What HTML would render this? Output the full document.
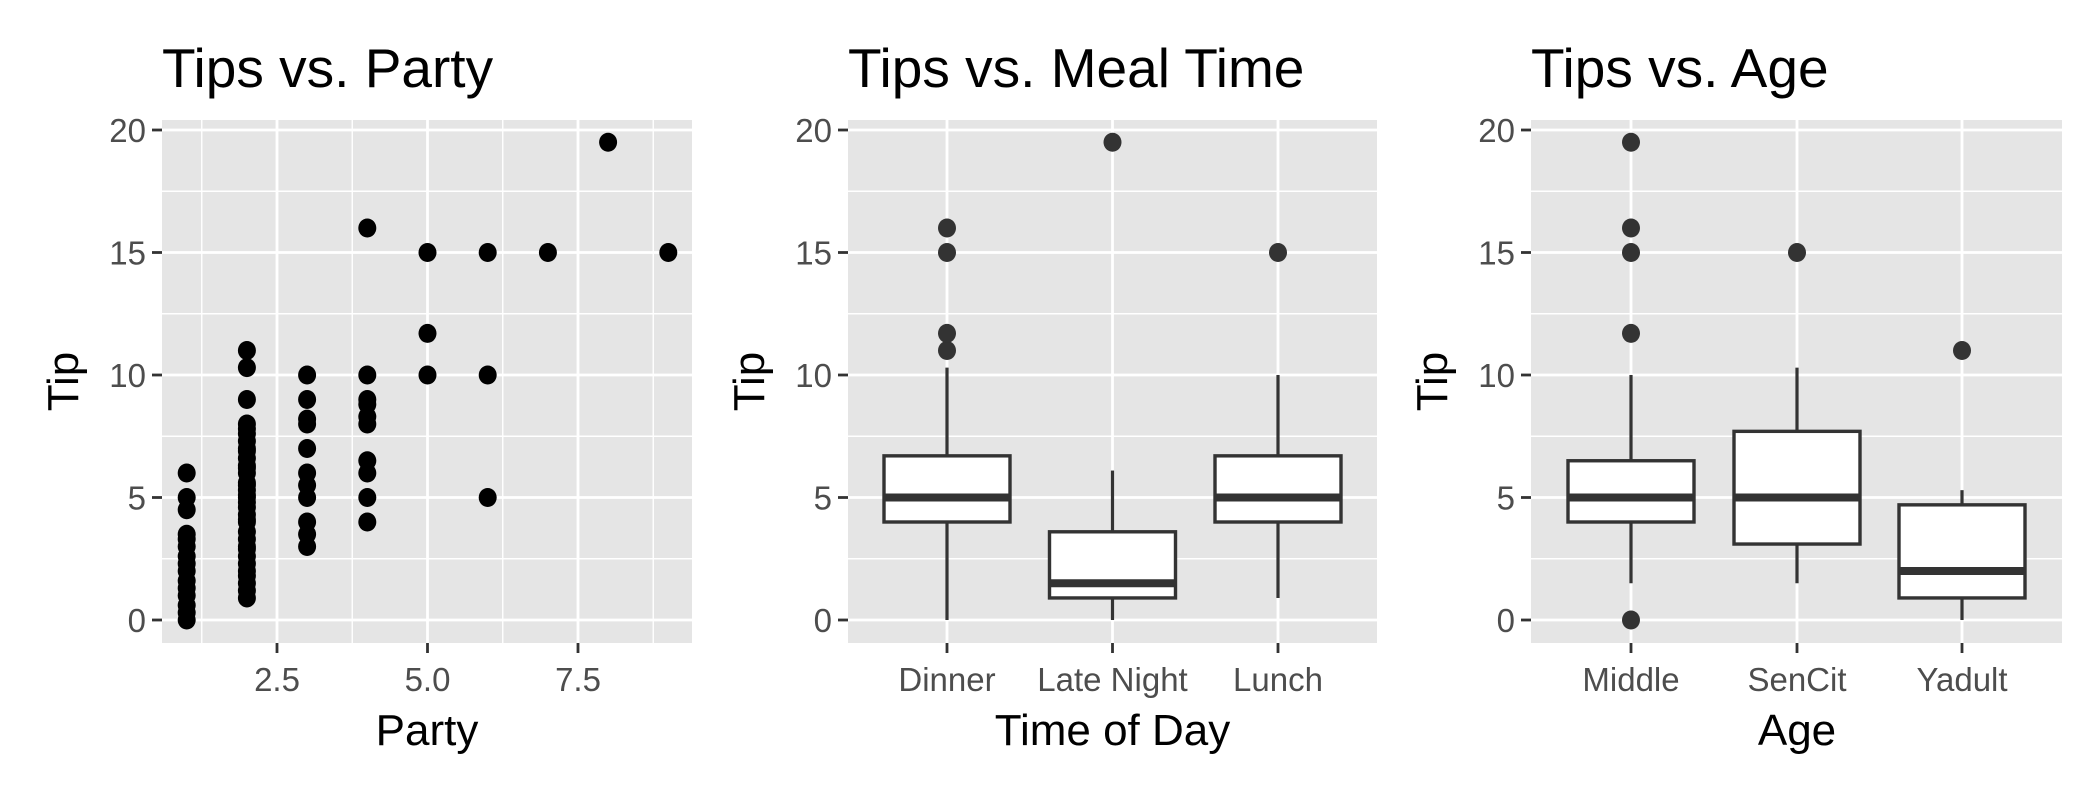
<!DOCTYPE html>
<html><head><meta charset="utf-8"><style>
html,body{margin:0;padding:0;background:#fff;}
svg{display:block;font-family:"Liberation Sans",Arial,sans-serif;}
</style></head><body>
<svg id="chart" width="2100" height="795" viewBox="0 0 2100 795" xmlns="http://www.w3.org/2000/svg"></svg>
<script>
// ---------- data ----------
const yTicks = [0, 5, 10, 15, 20];
const yTickLabels = ["0", "5", "10", "15", "20"];
const xTicksParty = [2.5, 5.0, 7.5];
const xTickLabelsParty = ["2.5", "5.0", "7.5"];
const partyX = [1,1,1,1,1,1,1,1,1,1,1,1,1,1,1,
  2,2,2,2,2,2,2,2,2,2,2,2,2,2,2,2,2,2,2,2,2,2,2,2,2,2,2,2,2,2,2,2,2,2,
  3,3,3,3,3,3,3,3,3,3,3,
  4,4,4,4,4,4,4,4,4,4,
  5,5,5, 6,6,6, 7, 8, 9];
const partyTip = [0,0.3,0.6,1,1.3,1.6,2,2.3,2.6,3,3.3,3.5,4.5,5,6,
  0.9,1.2,1.5,2,2.3,2.6,3,3.3,3.6,4,4.3,4.6,5,5.3,5.6,6,6.3,6.6,7,7.3,7.6,8,9,10.3,11,1.8,2.9,4.1,4.8,5.5,6.2,6.9,7.8,5.1,
  3,3.5,4,5,5.5,6,7,8,8.2,9,10,
  4,5,6,6.5,8,8.3,8.8,9,10,16,
  10,11.7,15, 5,10,15, 15, 19.5, 15];
const timeCats = ["Dinner", "Late Night", "Lunch"];
const timeLow = [0, 0, 0.9];
const timeQ1 = [4, 0.9, 4];
const timeMed = [5, 1.5, 5];
const timeQ3 = [6.7, 3.6, 6.7];
const timeHigh = [10.3, 6.1, 10];
const timeOutliers = [[11, 11.7, 15, 16], [19.5], [15]];
const ageCats = ["Middle", "SenCit", "Yadult"];
const ageLow = [1.5, 1.5, 0];
const ageQ1 = [4, 3.1, 0.9];
const ageMed = [5, 5, 2];
const ageQ3 = [6.5, 7.7, 4.7];
const ageHigh = [10, 10.3, 5.3];
const ageOutliers = [[0, 11.7, 15, 16, 19.5], [15], [11]];

// ---------- helpers ----------
const NS = "http://www.w3.org/2000/svg";
const svg = document.getElementById("chart");
function mk(tag, attrs, parent, txt) {
  const e = document.createElementNS(NS, tag);
  for (const k in attrs) e.setAttribute(k, attrs[k]);
  if (txt !== undefined) e.textContent = txt;
  (parent || svg).appendChild(e);
  return e;
}
const PT = 120, PB = 643;
function yScale(v) { return 620 - v * 24.5; }
const TICKFS = 33, TITLEFS = 55, AXFS = 44;

function panelBase(g, x0, x1, title, xTitle, xTitleX) {
  const bg = mk("rect", {x: x0, y: PT, width: x1 - x0, height: PB - PT, fill: "#e5e5e5"}, g);
  
  
  [2.5, 7.5, 12.5, 17.5].forEach(v => {
    const l = mk("line", {x1: x0, x2: x1, y1: yScale(v), y2: yScale(v), stroke: "#fff", "stroke-width": 1.4}, g);
    
    
  });
  yTicks.forEach((v, i) => {
    const l = mk("line", {x1: x0, x2: x1, y1: yScale(v), y2: yScale(v), stroke: "#fff", "stroke-width": 2.8}, g);
    
    
    const t = mk("line", {x1: x0 - 10, x2: x0, y1: yScale(v), y2: yScale(v), stroke: "#333", "stroke-width": 2.8}, g);
    
    
    const lb = mk("text", {x: x0 - 16, y: yScale(v) + 12, "text-anchor": "end", "font-size": TICKFS, fill: "#4d4d4d"}, g, yTickLabels[i]);
    
    
  });
  const tt = mk("text", {x: x0, y: 87, "font-size": TITLEFS, fill: "#000"}, g, title);
  
  
  const yt = mk("text", {transform: `translate(${x0 - 84},${(PT + PB) / 2}) rotate(-90)`, "text-anchor": "middle", "font-size": AXFS, fill: "#000"}, g, "Tip");
  
  
  const xt = mk("text", {x: xTitleX, y: 745, "text-anchor": "middle", "font-size": AXFS, fill: "#000"}, g, xTitle);
  
  
}

// ---------- panel 1: scatter ----------
const g1 = mk("g", {});


const p1x0 = 162, p1x1 = 692;
function xParty(v) { return 277 + (v - 2.5) * 60.2; }
panelBase(g1, p1x0, p1x1, "Tips vs. Party", "Party", (p1x0 + p1x1) / 2);
[1.25, 3.75, 6.25, 8.75].forEach(v => {
  const l = mk("line", {x1: xParty(v), x2: xParty(v), y1: PT, y2: PB, stroke: "#fff", "stroke-width": 1.4}, g1);
  
  
});
xTicksParty.forEach((v, i) => {
  const l = mk("line", {x1: xParty(v), x2: xParty(v), y1: PT, y2: PB, stroke: "#fff", "stroke-width": 2.8}, g1);
  
  
  const t = mk("line", {x1: xParty(v), x2: xParty(v), y1: PB, y2: PB + 10, stroke: "#333", "stroke-width": 2.8}, g1);
  
  
  const lb = mk("text", {x: xParty(v), y: 691, "text-anchor": "middle", "font-size": TICKFS, fill: "#4d4d4d"}, g1, xTickLabelsParty[i]);
  
  
});
partyX.forEach((px, i) => {
  const c = mk("ellipse", {cx: xParty(px), cy: yScale(partyTip[i]), rx: 9, ry: 9.5, fill: "#000"}, g1);
  
  
});

// ---------- box panels ----------
function boxPanel(name, x0, x1, title, xTitle, cats, centers, low, q1, med, q3, high, outl) {
  const g = mk("g", {});
  
  
  panelBase(g, x0, x1, title, xTitle, centers[1]);
  cats.forEach((c, i) => {
    const cx = centers[i];
    const l = mk("line", {x1: cx, x2: cx, y1: PT, y2: PB, stroke: "#fff", "stroke-width": 2.8}, g);
    
    
    const t = mk("line", {x1: cx, x2: cx, y1: PB, y2: PB + 10, stroke: "#333", "stroke-width": 2.8}, g);
    
    
    const lb = mk("text", {x: cx, y: 691, "text-anchor": "middle", "font-size": TICKFS, fill: "#4d4d4d"}, g, c);
    
    
  });
  cats.forEach((c, i) => {
    const cx = centers[i], hw = 63;
    const w1 = mk("line", {x1: cx, x2: cx, y1: yScale(q3[i]), y2: yScale(high[i]), stroke: "#333", "stroke-width": 3.2}, g);
    
    
    const w2 = mk("line", {x1: cx, x2: cx, y1: yScale(q1[i]), y2: yScale(low[i]), stroke: "#333", "stroke-width": 3.2}, g);
    
    
    const b = mk("rect", {x: cx - hw, y: yScale(q3[i]), width: 2 * hw, height: yScale(q1[i]) - yScale(q3[i]), fill: "#fff", stroke: "#333", "stroke-width": 3.4}, g);
    
    
    const m = mk("line", {x1: cx - hw, x2: cx + hw, y1: yScale(med[i]), y2: yScale(med[i]), stroke: "#333", "stroke-width": 8}, g);
    
    
    outl[i].forEach(v => {
      const o = mk("ellipse", {cx: cx, cy: yScale(v), rx: 9, ry: 9.5, fill: "#333"}, g);
      
      
    });
  });
}
boxPanel('tips-vs-meal-time-panel', 848, 1377, "Tips vs. Meal Time", "Time of Day", timeCats,
  [947, 1112.5, 1278], timeLow, timeQ1, timeMed, timeQ3, timeHigh, timeOutliers);
boxPanel('tips-vs-age-panel', 1531, 2062, "Tips vs. Age", "Age", ageCats,
  [1631, 1797, 1962], ageLow, ageQ1, ageMed, ageQ3, ageHigh, ageOutliers);
</script>
</body></html>
